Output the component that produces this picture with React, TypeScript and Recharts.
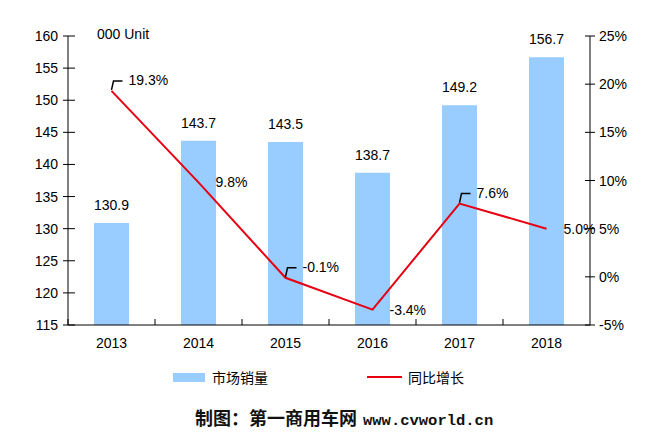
import React from 'react';
import { ComposedChart, Bar, Line, XAxis, YAxis, Legend, LabelList } from 'recharts';

const years = ['2013', '2014', '2015', '2016', '2017', '2018'];
const sales = [130.9, 143.7, 143.5, 138.7, 149.2, 156.7];
const growth = [19.3, 9.8, -0.1, -3.4, 7.6, 5.0];
const leftTicks = [115, 120, 125, 130, 135, 140, 145, 150, 155, 160];
const rightTicks = [-5, 0, 5, 10, 15, 20, 25];
const leaderLabelIndexes = [0, 2, 4];

const data = years.map((y, i) => ({ year: y, sales: sales[i], growth: growth[i] }));

const FONT = '"Liberation Sans", Arial, sans-serif';
const CJK = '"Noto Sans CJK SC", sans-serif';
const BLUE = '#99CCFF';
const RED = '#E60012';

const LeftTick = (props: any) => {
  const { x, y, payload } = props;
  return (
    <g>
      <line x1={x - 5} x2={x + 7} y1={y} y2={y} stroke="#000" strokeWidth={1} />
      <text x={x - 10} y={y} textAnchor="end" dominantBaseline="central" fontSize={14} fontFamily={FONT} fill="#000">
        {payload.value}
      </text>
    </g>
  );
};

const RightTick = (props: any) => {
  const { x, y, payload } = props;
  return (
    <g>
      <line x1={x - 5} x2={x + 5} y1={y} y2={y} stroke="#000" strokeWidth={1} />
      <text x={x + 9} y={y} textAnchor="start" dominantBaseline="central" fontSize={14} fontFamily={FONT} fill="#000">
        {payload.value}%
      </text>
    </g>
  );
};

const BottomTick = (props: any) => {
  const { x, y, payload, index, visibleTicksCount, width } = props;
  const half = payload.offset ? payload.offset : width / visibleTicksCount / 2;
  const last = index === visibleTicksCount - 1;
  return (
    <g>
      <line x1={x - half} x2={x - half} y1={y} y2={y - 6} stroke="#000" strokeWidth={1} />
      {last && index > 0 ? null : null}
      <text x={x} y={y + 18} textAnchor="middle" dominantBaseline="central" fontSize={14} fontFamily={FONT} fill="#000">
        {payload.value}
      </text>
    </g>
  );
};

const BarValueLabel = (props: any) => {
  const { x, y, width, value } = props;
  return (
    <text x={x + width / 2} y={y - 18} textAnchor="middle" dominantBaseline="central" fontSize={14} fontFamily={FONT} fill="#000">
      {Number(value).toFixed(1)}
    </text>
  );
};

const LineValueLabel = (props: any) => {
  const { x, y, value, index } = props;
  const txt = `${Number(value).toFixed(1)}%`;
  if (leaderLabelIndexes.includes(index)) {
    return (
      <g>
        <path d={`M${x},${y - 1} L${x + 2},${y - 10} L${x + 11},${y - 10}`} stroke="#000" strokeWidth={1.5} fill="none" />
        <text x={x + 17} y={y - 11} textAnchor="start" dominantBaseline="central" fontSize={14} fontFamily={FONT} fill="#000">
          {txt}
        </text>
      </g>
    );
  }
  return (
    <text x={x + 17} y={y} textAnchor="start" dominantBaseline="central" fontSize={14} fontFamily={FONT} fill="#000">
      {txt}
    </text>
  );
};

const LegendContent = (props: any) => {
  const { payload } = props;
  const bar = payload.find((p: any) => p.dataKey === 'sales');
  const line = payload.find((p: any) => p.dataKey === 'growth');
  return (
    <div style={{ position: 'relative', width: 671, height: 24, fontFamily: CJK, fontSize: 14, color: '#000' }}>
      {bar && (
        <>
          <div style={{ position: 'absolute', left: 173, top: 8, width: 32, height: 9, background: BLUE }} />
          <div style={{ position: 'absolute', left: 212, top: 2, lineHeight: '20px' }}>{bar.value}</div>
        </>
      )}
      {line && (
        <>
          <div style={{ position: 'absolute', left: 367, top: 11, width: 35, height: 2, background: RED }} />
          <div style={{ position: 'absolute', left: 408, top: 2, lineHeight: '20px' }}>{line.value}</div>
        </>
      )}
    </div>
  );
};

export default function App() {
  return (
    <div style={{ position: 'absolute', left: 0, top: 0, width: 671, height: 445, background: '#fff', overflow: 'hidden' }}>
      <ComposedChart width={671} height={445} data={data} margin={{ top: 36, right: 0, bottom: 90, left: 0 }}>
        <XAxis
          dataKey="year"
          xAxisId="x"
          height={30}
          tickSize={0}
          tickMargin={0}
          tickLine={false}
          axisLine={{ stroke: '#000', strokeWidth: 1 }}
          tick={<BottomTick />}
          interval={0}
        />
        <YAxis
          yAxisId="left"
          orientation="left"
          width={68}
          domain={[115, 160]}
          ticks={leftTicks}
          tickSize={0}
          tickMargin={0}
          tickLine={false}
          axisLine={{ stroke: '#000', strokeWidth: 1 }}
          tick={<LeftTick />}
          interval={0}
        />
        <YAxis
          yAxisId="right"
          orientation="right"
          width={81}
          domain={[-5, 25]}
          ticks={rightTicks}
          tickSize={0}
          tickMargin={0}
          tickLine={false}
          axisLine={{ stroke: '#000', strokeWidth: 1 }}
          tick={<RightTick />}
          interval={0}
        />
        <Bar dataKey="sales" name="市场销量" xAxisId="x" yAxisId="left" fill={BLUE} barSize={35} isAnimationActive={false}>
          <LabelList dataKey="sales" content={<BarValueLabel />} />
        </Bar>
        <Line
          dataKey="growth"
          name="同比增长"
          xAxisId="x"
          yAxisId="right"
          stroke={RED}
          strokeWidth={2}
          dot={false}
          activeDot={false}
          isAnimationActive={false}
          label={<LineValueLabel />}
        />
        <Legend
          layout="horizontal"
          verticalAlign="middle"
          align="center"
          content={<LegendContent />}
          wrapperStyle={{ top: 365, left: 0, width: 671, height: 24 }}
        />
      </ComposedChart>
      <div style={{ position: 'absolute', left: 97, top: 26, fontFamily: FONT, fontSize: 14, lineHeight: '16px', color: '#000' }}>
        000 Unit
      </div>
      <div style={{ position: 'absolute', left: 195, top: 405, whiteSpace: 'nowrap', lineHeight: '24px', color: '#111' }}>
        <span style={{ fontFamily: CJK, fontSize: 18, fontWeight: 700 }}>制图：第一商用车网</span>
        <span style={{ fontFamily: '"Liberation Mono", monospace', fontSize: 15.5, fontWeight: 700, marginLeft: 6 }}>www.cvworld.cn</span>
      </div>
    </div>
  );
}
